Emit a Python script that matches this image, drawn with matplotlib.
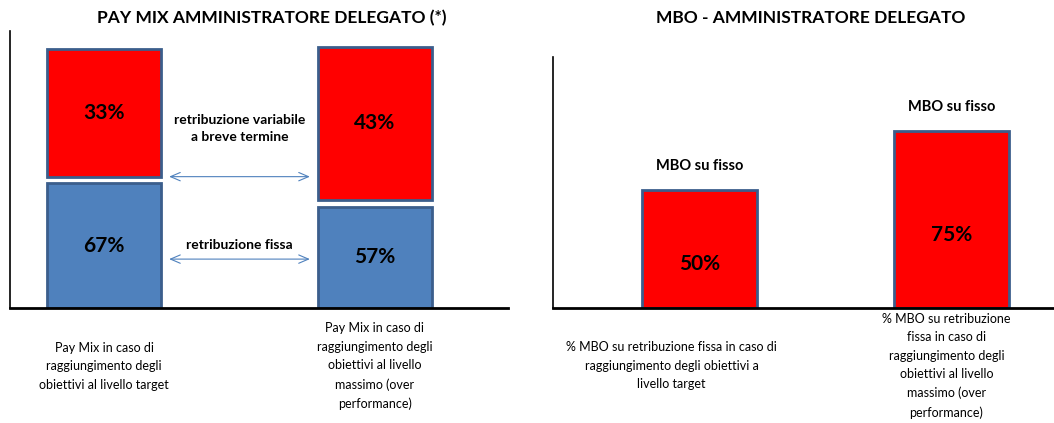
import matplotlib
matplotlib.use("Agg")
import matplotlib.pyplot as plt

plt.rcParams["font.family"] = ["Lato", "DejaVu Sans"]

# --- pay mix (left panel) ---
paymix_categories = [
    "Pay Mix in caso di\nraggiungimento degli\nobiettivi al livello target",
    "Pay Mix in caso di\nraggiungimento degli\nobiettivi al livello\nmassimo (over\nperformance)",
]
fixed_pct = ["67%", "57%"]
variable_pct = ["33%", "43%"]
# block heights as drawn in the slide (schematic, not proportional)
fixed_block = [48, 39]
variable_block = [49, 59]
block_gap = 2.5

# --- MBO (right panel) ---
mbo_categories = [
    "% MBO su retribuzione fissa in caso di\nraggiungimento degli obiettivi a\nlivello target",
    "% MBO su retribuzione\nfissa in caso di\nraggiungimento degli\nobiettivi al livello\nmassimo (over\nperformance)",
]
mbo_values = [50, 75]
mbo_header = "MBO su fisso"

RED = "#FF0000"
BLUE = "#4F81BD"
EDGE = "#3B5E8C"

W, H = 1054, 423
fig = plt.figure(figsize=(W / 100, H / 100), dpi=100)


def px_axes(x0, x1, ytop, ybot):
    return fig.add_axes([x0 / W, 1 - ybot / H, (x1 - x0) / W, (ybot - ytop) / H])


def style(ax):
    for s in ("top", "right"):
        ax.spines[s].set_visible(False)
    ax.spines["left"].set_linewidth(1.2)
    ax.spines["bottom"].set_linewidth(2)
    ax.set_xticks([])
    ax.set_yticks([])


# left panel
ax1 = px_axes(10, 508, 31, 308)
style(ax1)
xs = [0, 1]
ax1.bar(xs, fixed_block, width=0.42, color=BLUE, edgecolor=EDGE, linewidth=2)
red_bottom = [f + block_gap for f in fixed_block]
ax1.bar(xs, variable_block, bottom=red_bottom, width=0.42, color=RED,
        edgecolor=EDGE, linewidth=2)
ax1.set_xlim(-0.347, 1.491)
ax1.set_ylim(0, 106.5)
for i in xs:
    ax1.text(i, fixed_block[i] / 2, fixed_pct[i], ha="center", va="center",
             fontsize=15, fontweight="bold")
    ax1.text(i, red_bottom[i] + variable_block[i] / 2, variable_pct[i],
             ha="center", va="center", fontsize=15, fontweight="bold")
    ax1.text(i, -0.21, paymix_categories[i], transform=ax1.get_xaxis_transform(),
             ha="center", va="center", fontsize=9, linespacing=1.65)

arrow = dict(arrowstyle="<->,head_length=0.7,head_width=0.3", color=BLUE, lw=0.8)
ax1.annotate("", xy=(0.23, red_bottom[0]), xytext=(0.77, red_bottom[0]), arrowprops=arrow)
ax1.annotate("", xy=(0.23, 18.8), xytext=(0.77, 18.8), arrowprops=arrow)
ax1.text(0.5, 69, "retribuzione variabile\na breve termine", ha="center", va="center",
         fontsize=10, fontweight="bold", linespacing=1.45)
ax1.text(0.5, 22, "retribuzione fissa", ha="center", va="bottom",
         fontsize=10, fontweight="bold")
fig.text(272 / W, 1 - 18 / H, "PAY MIX AMMINISTRATORE DELEGATO (*)", ha="center",
         va="center", fontsize=12.5, fontweight="bold")

# right panel
ax2 = px_axes(553, 1054, 57, 308)
style(ax2)
ax2.bar(xs, mbo_values, width=0.456, color=RED, edgecolor=EDGE, linewidth=2)
ax2.set_xlim(-0.581, 1.407)
ax2.set_ylim(0, 106.4)
label_shift = [-0.11, -0.02]
for i in xs:
    ax2.annotate(f"{mbo_values[i]}%", (i, mbo_values[i] / 2), xytext=(0, -11),
                 textcoords="offset points", ha="center", va="center",
                 fontsize=15, fontweight="bold")
    ax2.annotate(mbo_header, (i, mbo_values[i]), xytext=(0, 17),
                 textcoords="offset points", ha="center", va="center",
                 fontsize=10.5, fontweight="bold")
    ax2.text(i + label_shift[i], -0.23, mbo_categories[i],
             transform=ax2.get_xaxis_transform(), ha="center", va="center",
             fontsize=9, linespacing=1.65)
fig.text(811 / W, 1 - 18 / H, "MBO - AMMINISTRATORE DELEGATO", ha="center",
         va="center", fontsize=12.5, fontweight="bold")

fig.savefig("out.png", dpi=100)
